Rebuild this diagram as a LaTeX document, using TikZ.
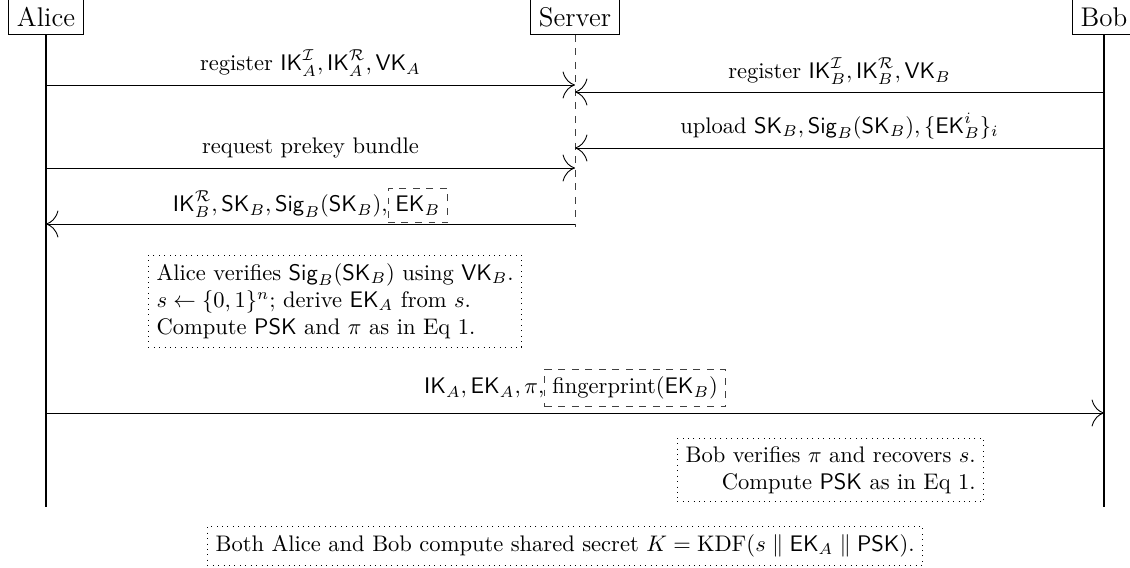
\documentclass[tikz,border=0pt]{standalone}
\usepackage{amsmath,amssymb}
\usetikzlibrary{arrows.meta}
\newcommand{\msf}[1]{\mathsf{#1}}
\begin{document}
\begin{tikzpicture}[x=0.444pt,y=-0.444pt,
  actor/.style={draw,thin,anchor=base,font=\large,text height=14pt,text depth=0.7pt,inner ysep=3pt,inner xsep=3.8pt},
  life/.style={line width=1pt},
  srvlife/.style={dashed,black!75},
  msg/.style={-{To[length=5.5pt,width=12pt]}},
  lbl/.style={anchor=base,inner sep=0pt},
  dbox/.style={draw,dashed,black!75,text=black,inner sep=3.33pt},
  note/.style={draw,dotted,inner sep=3.6pt}]
\useasboundingbox (0,0) rectangle (1130,567);

% participants
\node[actor] (alice) at (46,26) {Alice};
\node[actor] (server) at (575,26) {Server};
\node[actor] (bob) at (1104,26) {Bob};

% lifeline ends
\coordinate (aend) at (46,507);
\coordinate (bend) at (1104,507);
\coordinate (send) at (575,227);

\draw[life] (alice.south) -- (aend);
\draw[life] (bob.south) -- (bend);
\draw[srvlife] (server.south) -- (send);

% message points
\coordinate (a1) at (46,85);   \coordinate (s1) at (575,85);
\coordinate (b2) at (1104,92); \coordinate (s2) at (575,92);
\coordinate (b3) at (1104,148);\coordinate (s3) at (575,148);
\coordinate (a4) at (46,168);  \coordinate (s4) at (575,168);
\coordinate (s5) at (575,224); \coordinate (a5) at (46,224);
\coordinate (a7) at (46,413);  \coordinate (b7) at (1104,413);

\draw[msg] (a1) -- node[lbl,yshift=6.3pt] (l1) {register $\msf{IK}_A^{\mathcal{I}}, \msf{IK}_A^{\mathcal{R}}, \msf{VK}_A$} (s1);
\draw[msg] (b2) -- node[lbl,yshift=5.8pt] (l2) {register $\msf{IK}_B^{\mathcal{I}}, \msf{IK}_B^{\mathcal{R}}, \msf{VK}_B$} (s2);
\draw[msg] (b3) -- node[lbl,yshift=6.5pt] (l3) {upload $\msf{SK}_B, \msf{Sig}_B(\msf{SK}_B), \{\msf{EK}_B^i\}_i$} (s3);
\draw[msg] (a4) -- node[lbl,yshift=6.5pt] (l4) {request prekey bundle} (s4);
\draw[msg] (s5) -- node[lbl,yshift=5.4pt] (l5) {$\msf{IK}_B^{\mathcal{R}}, \msf{SK}_B, \msf{Sig}_B(\msf{SK}_B),$\tikz[baseline=(ekb.base)]\node[dbox] (ekb) {$\msf{EK}_B$};} (a5);
\draw[msg] (a7) -- node[lbl,yshift=8.6pt] (l7) {$\msf{IK}_A, \msf{EK}_A, \pi,$\tikz[baseline=(fpb.base)]\node[dbox] (fpb) {fingerprint($\msf{EK}_B$)};} (b7);

% notes
\node[note,align=left,anchor=north west] (na) at (148,255) {Alice verifies $\msf{Sig}_B(\msf{SK}_B)$ using $\msf{VK}_B$.\\ $s \leftarrow \{0,1\}^n$; derive $\msf{EK}_A$ from $s$.\\ Compute $\msf{PSK}$ and $\pi$ as in Eq 1.};
\node[note,align=right,anchor=north west] (nb) at (677,438) {Bob verifies $\pi$ and recovers $s$.\\ Compute $\msf{PSK}$ as in Eq 1.};
\node[note,anchor=north west] (nk) at (207,526) {Both Alice and Bob compute shared secret $K = \mathrm{KDF}(s \parallel \msf{EK}_A \parallel \msf{PSK})$.};
\end{tikzpicture}
\end{document}
